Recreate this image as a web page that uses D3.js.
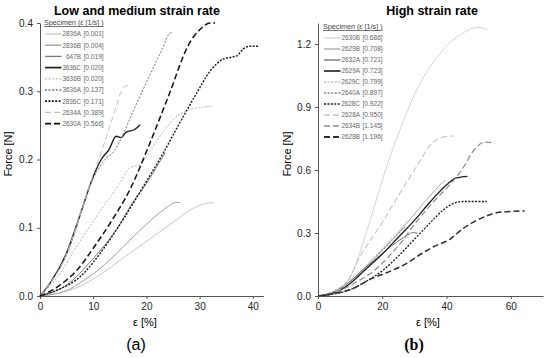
<!DOCTYPE html>
<html>
<head>
<meta charset="utf-8">
<script src="https://cdn.jsdelivr.net/npm/d3@7"></script>
<style>
  body { margin: 0; background: #fff; }
  svg { display: block; font-family: "Liberation Sans", Arial, sans-serif; }
  .axis path, .axis line { stroke: #555; }
  .axis text { font-size: 10px; fill: #222; }
  .leg { fill: #666; }
</style>
</head>
<body>
<div id="chart"></div>
<script>
// ===========================================
// Data: strain [%], force [N]
var leftIds = ["2836A", "2836B", "647B", "3636C", "3636B", "3636A", "2836C", "2634A", "2630A"];
var leftRates = ["0.001", "0.004", "0.019", "0.020", "0.020", "0.137", "0.171", "0.389", "0.566"];

var s2836A = [[0,0],[5,0.007],[7.5,0.014],[12,0.035],[16.9,0.063],[20,0.08],[25.7,0.112],[28,0.125],[30,0.133],[32.5,0.137]];
var s2836B = [[0,0],[5,0.008],[7.5,0.019],[12,0.045],[16.9,0.082],[20,0.105],[23,0.125],[25.7,0.137],[26.2,0.137]];
var s647B  = [[0,0],[5,0.016],[10,0.055],[15,0.105],[17,0.132],[20,0.165],[23.5,0.21]];
var s3636C = [[0,0],[2,0.02],[5,0.063],[7.5,0.118],[10,0.175],[11.5,0.2],[13,0.215],[14.3,0.234],[15.2,0.232],[16.2,0.24],[17.8,0.244],[18.8,0.251]];
var s3636B = [[0,0],[3,0.025],[7.5,0.08],[11.9,0.131],[15,0.165],[16.9,0.188],[17.8,0.19],[18.8,0.192],[19.6,0.2],[22,0.228],[25,0.258],[27,0.27],[30,0.276],[32.5,0.278]];
var s3636A = [[0,0],[5,0.06],[10,0.172],[12,0.198],[14,0.213],[15.5,0.235],[17,0.262],[20.3,0.318],[23,0.362],[24.4,0.385],[24.9,0.386]];
var s2836C = [[0,0],[3,0.008],[7.5,0.028],[12,0.07],[15.6,0.112],[20,0.168],[23.2,0.21],[26,0.25],[29.5,0.298],[32,0.33],[34.4,0.347],[36,0.35],[37,0.352],[38.2,0.362],[39.5,0.366],[41,0.366]];
var s2634A = [[0,0],[5,0.062],[8,0.13],[10,0.178],[12,0.222],[14,0.27],[15.3,0.3],[16.3,0.308],[17,0.308]];
var s2630A = [[0,0],[3,0.012],[7.5,0.043],[10,0.07],[13.2,0.107],[16.9,0.156],[20.7,0.225],[24,0.29],[28.2,0.372],[30,0.39],[32,0.4],[32.9,0.4]];
var leftData = [s2836A, s2836B, s647B, s3636C, s3636B, s3636A, s2836C, s2634A, s2630A];

var rightIds = ["2630B", "2629B", "2632A", "2629A", "2629C", "2640A", "2628C", "2628A", "2634B", "2628B"];
var rightRates = ["0.686", "0.708", "0.721", "0.723", "0.799", "0.897", "0.922", "0.950", "1.145", "1.196"];

var s2630B = [[0,0],[5,0.02],[10,0.09],[12,0.16],[15,0.3],[18,0.45],[21,0.6],[25.5,0.79],[30,0.96],[35.7,1.11],[38.8,1.17],[42,1.22],[46,1.26],[49.7,1.28],[52.5,1.268]];
var s2629B = [[0,0],[5,0.02],[10,0.07],[15,0.14],[20,0.22],[25,0.3],[30,0.39],[35,0.48],[38,0.53],[39.5,0.553]];
var s2632A = [[0,0],[5,0.02],[10,0.07],[15,0.14],[20,0.2],[23,0.24],[26,0.272],[28,0.292],[29.5,0.302],[31,0.298]];
var s2629A = [[0,0],[5,0.015],[10,0.06],[14.6,0.124],[20,0.2],[25,0.28],[30,0.36],[35,0.45],[40.4,0.535],[43,0.562],[46.5,0.57]];
var s2629C = [[0,0],[5,0.025],[10,0.08],[15,0.15],[20,0.225],[25,0.31],[28,0.36]];
var s2640A = [[0,0],[5,0.02],[10,0.07],[15,0.135],[20,0.215],[24,0.28],[27.5,0.335]];
var s2628C = [[0,0],[5,0.01],[10,0.03],[15,0.07],[20,0.12],[25,0.19],[30,0.27],[35,0.35],[39,0.41],[42,0.44],[45,0.45],[52.5,0.45]];
var s2628A = [[0,0],[5,0.015],[10,0.09],[12.5,0.17],[20,0.35],[25.5,0.49],[30,0.6],[35.7,0.73],[40,0.76],[42,0.762]];
var s2634B = [[0,0],[5,0.012],[10,0.05],[17.7,0.124],[25,0.24],[31,0.36],[36,0.45],[40.4,0.52],[44.7,0.6],[48.8,0.7],[51.9,0.733],[55,0.728]];
var s2628B = [[0,0],[5,0.012],[10,0.03],[17,0.085],[22,0.115],[27.6,0.155],[32,0.2],[36,0.235],[41,0.27],[45,0.32],[50,0.365],[57,0.4],[64.3,0.405]];
var rightData = [s2630B, s2629B, s2632A, s2629A, s2629C, s2640A, s2628C, s2628A, s2634B, s2628B];

// line styles (colour, width, dash) in legend order
var leftStyle = [
  ["#c8c8c8", 1, null], ["#a0a0a0", 1, null], ["#7a7a7a", 1, null],
  ["#1e1e1e", 1.4, null], ["#b8b8b8", 1, "2,1.6"], ["#777", 1, "2,1.6"],
  ["#1a1a1a", 1.4, "2,1.4"], ["#c0c0c0", 1, "6,3"], ["#111", 1.5, "6,3"]
];
var rightStyle = [
  ["#d4d4d4", 1, null], ["#a8a8a8", 1, null], ["#707070", 1, null],
  ["#1e1e1e", 1.3, null], ["#bdbdbd", 1, "2,1.6"], ["#808080", 1, "2,1.6"],
  ["#1a1a1a", 1.3, "2,1.4"], ["#c4c4c4", 1.1, "6,3"], ["#8c8c8c", 1.2, "6,3"], ["#2e2e2e", 1.5, "6,3"]
];

// ===========================================
// Set up SVG
var svgWidth = 550, svgHeight = 358;
var svg = d3.select("#chart").append("svg")
    .attr("width", svgWidth)
    .attr("height", svgHeight);

function drawPanel(opt) {
    var x = d3.scaleLinear().domain(opt.xDomain).range(opt.xRange);
    var y = d3.scaleLinear().domain(opt.yDomain).range(opt.yRange);

    svg.append("g").attr("class", "axis")
        .attr("transform", `translate(0, ${opt.yRange[0]})`)
        .call(d3.axisBottom(x).tickValues(opt.xTicks).tickSize(3).tickSizeOuter(0).tickPadding(4));

    svg.append("g").attr("class", "axis")
        .attr("transform", `translate(${opt.xRange[0]}, 0)`)
        .call(d3.axisLeft(y).tickValues(opt.yTicks).tickFormat(d3.format(".1f")).tickSize(3).tickSizeOuter(0).tickPadding(4));

    var line = d3.line()
        .x(d => x(d[0]))
        .y(d => y(d[1]))
        .curve(d3.curveMonotoneX);

    opt.data.forEach(function(series, i) {
        var st = opt.style[i];
        svg.append("path")
            .datum(series)
            .attr("d", line)
            .attr("fill", "none")
            .attr("stroke", st[0])
            .attr("stroke-width", st[1])
            .attr("stroke-dasharray", st[2]);
    });

    // legend
    var lg = svg.append("g").attr("transform", `translate(${opt.legX}, ${opt.legY})`);
    lg.append("text")
        .attr("x", 0).attr("y", 0)
        .attr("text-decoration", "underline")
        .style("fill", "#444")
        .style("font-size", "7.2px")
        .text("Specimen (\u03B5\u0307 [1/s] )");
    opt.ids.forEach(function(id, i) {
        var st = opt.style[i];
        var yy = 9 + i * opt.legStep;
        lg.append("line")
            .attr("x1", 1).attr("x2", 17.5)
            .attr("y1", yy).attr("y2", yy)
            .attr("stroke", st[0])
            .attr("stroke-width", st[1] + 0.3)
            .attr("stroke-dasharray", st[2]);
        lg.append("text").attr("class", "leg")
            .attr("x", 37).attr("y", yy + 2.3)
            .attr("text-anchor", "end")
            .style("font-size", "6.4px")
            .text(id);
        lg.append("text").attr("class", "leg")
            .attr("x", 39.5).attr("y", yy + 2.3)
            .style("font-size", "6.6px")
            .text("[" + opt.rates[i] + "]");
    });

    // titles and axis labels
    svg.append("text")
        .attr("x", opt.titleX).attr("y", 15)
        .attr("text-anchor", "middle")
        .attr("font-size", "12.5px")
        .attr("font-weight", "bold")
        .text(opt.title);

    svg.append("text")
        .attr("transform", `translate(${opt.yLabX}, 154) rotate(-90)`)
        .attr("text-anchor", "middle")
        .attr("font-size", "11px")
        .text("Force  [N]");

    svg.append("text")
        .attr("x", opt.xLabX).attr("y", 326)
        .attr("text-anchor", "middle")
        .attr("font-size", "11px")
        .text("\u03B5 [%]");

    svg.append("text")
        .attr("x", opt.tagX).attr("y", 350)
        .attr("text-anchor", "middle")
        .attr("font-family", opt.tagFont)
        .attr("font-weight", opt.tagWeight)
        .attr("font-size", "16px")
        .text(opt.tag);
}

drawPanel({
    data: leftData, style: leftStyle, ids: leftIds, rates: leftRates,
    xDomain: [0, 42], xRange: [40, 263.5], xTicks: [0, 10, 20, 30, 40],
    yDomain: [0, 0.4], yRange: [296, 23], yTicks: [0, 0.1, 0.2, 0.3, 0.4],
    legX: 44, legY: 25, legStep: 11.2,
    title: "Low and medium strain rate", titleX: 137,
    yLabX: 12, xLabX: 145, tagX: 136, tag: "(a)", tagFont: "Liberation Sans", tagWeight: "normal"
});

drawPanel({
    data: rightData, style: rightStyle, ids: rightIds, rates: rightRates,
    xDomain: [0, 70], xRange: [318, 543], xTicks: [0, 20, 40, 60],
    yDomain: [0, 1.3], yRange: [296, 23], yTicks: [0, 0.3, 0.6, 0.9, 1.2],
    legX: 323, legY: 29, legStep: 11,
    title: "High strain rate", titleX: 432,
    yLabX: 291, xLabX: 428, tagX: 414, tag: "(b)", tagFont: "Liberation Serif", tagWeight: "bold"
});
</script>
</body>
</html>
